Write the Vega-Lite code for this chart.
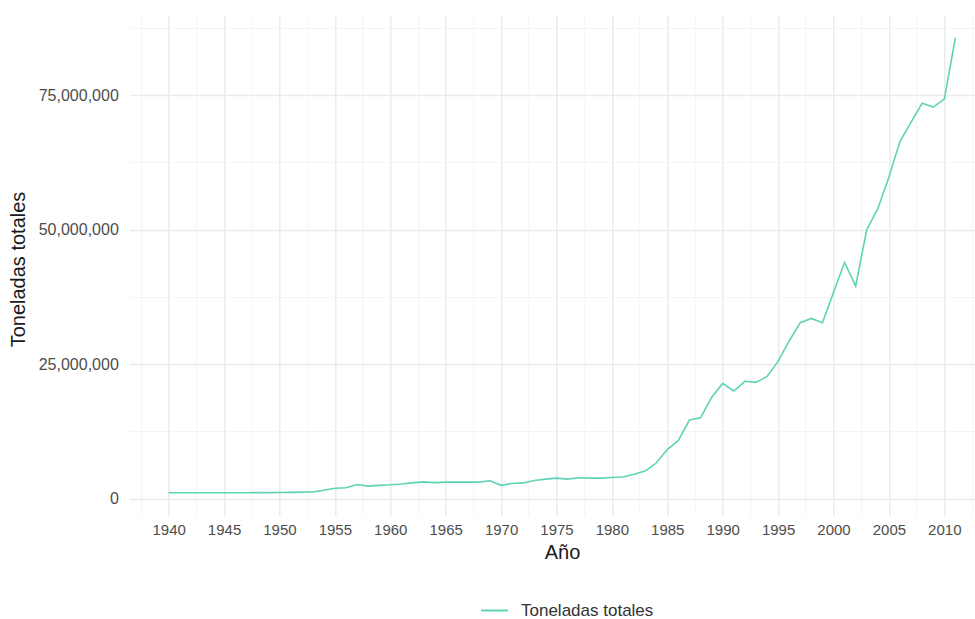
{
  "$schema": "https://vega.github.io/schema/vega-lite/v6.json",
  "autosize": {"type": "none"},
  "width": 845.7,
  "height": 500.5,
  "padding": {"left": 129.3, "top": 15, "right": 0, "bottom": 103.5},
  "background": "white",
  "config": {
    "view": {"stroke": null},
    "font": "Liberation Sans"
  },
  "data": {
    "values": [
      {"anio": 1940, "toneladas": 1070000},
      {"anio": 1941, "toneladas": 1070000},
      {"anio": 1942, "toneladas": 1070000},
      {"anio": 1943, "toneladas": 1070000},
      {"anio": 1944, "toneladas": 1070000},
      {"anio": 1945, "toneladas": 1070000},
      {"anio": 1946, "toneladas": 1070000},
      {"anio": 1947, "toneladas": 1070000},
      {"anio": 1948, "toneladas": 1100000},
      {"anio": 1949, "toneladas": 1100000},
      {"anio": 1950, "toneladas": 1120000},
      {"anio": 1951, "toneladas": 1150000},
      {"anio": 1952, "toneladas": 1180000},
      {"anio": 1953, "toneladas": 1220000},
      {"anio": 1954, "toneladas": 1550000},
      {"anio": 1955, "toneladas": 1900000},
      {"anio": 1956, "toneladas": 2000000},
      {"anio": 1957, "toneladas": 2600000},
      {"anio": 1958, "toneladas": 2300000},
      {"anio": 1959, "toneladas": 2450000},
      {"anio": 1960, "toneladas": 2550000},
      {"anio": 1961, "toneladas": 2700000},
      {"anio": 1962, "toneladas": 2900000},
      {"anio": 1963, "toneladas": 3100000},
      {"anio": 1964, "toneladas": 2950000},
      {"anio": 1965, "toneladas": 3050000},
      {"anio": 1966, "toneladas": 3050000},
      {"anio": 1967, "toneladas": 3050000},
      {"anio": 1968, "toneladas": 3050000},
      {"anio": 1969, "toneladas": 3300000},
      {"anio": 1970, "toneladas": 2450000},
      {"anio": 1971, "toneladas": 2800000},
      {"anio": 1972, "toneladas": 2900000},
      {"anio": 1973, "toneladas": 3350000},
      {"anio": 1974, "toneladas": 3600000},
      {"anio": 1975, "toneladas": 3800000},
      {"anio": 1976, "toneladas": 3600000},
      {"anio": 1977, "toneladas": 3850000},
      {"anio": 1978, "toneladas": 3800000},
      {"anio": 1979, "toneladas": 3800000},
      {"anio": 1980, "toneladas": 3900000},
      {"anio": 1981, "toneladas": 4000000},
      {"anio": 1982, "toneladas": 4500000},
      {"anio": 1983, "toneladas": 5100000},
      {"anio": 1984, "toneladas": 6600000},
      {"anio": 1985, "toneladas": 9100000},
      {"anio": 1986, "toneladas": 10800000},
      {"anio": 1987, "toneladas": 14600000},
      {"anio": 1988, "toneladas": 15000000},
      {"anio": 1989, "toneladas": 18800000},
      {"anio": 1990, "toneladas": 21400000},
      {"anio": 1991, "toneladas": 20000000},
      {"anio": 1992, "toneladas": 21800000},
      {"anio": 1993, "toneladas": 21600000},
      {"anio": 1994, "toneladas": 22700000},
      {"anio": 1995, "toneladas": 25500000},
      {"anio": 1996, "toneladas": 29300000},
      {"anio": 1997, "toneladas": 32700000},
      {"anio": 1998, "toneladas": 33500000},
      {"anio": 1999, "toneladas": 32700000},
      {"anio": 2000, "toneladas": 38300000},
      {"anio": 2001, "toneladas": 43900000},
      {"anio": 2002, "toneladas": 39500000},
      {"anio": 2003, "toneladas": 50000000},
      {"anio": 2004, "toneladas": 53900000},
      {"anio": 2005, "toneladas": 59800000},
      {"anio": 2006, "toneladas": 66400000},
      {"anio": 2007, "toneladas": 70000000},
      {"anio": 2008, "toneladas": 73500000},
      {"anio": 2009, "toneladas": 72800000},
      {"anio": 2010, "toneladas": 74300000},
      {"anio": 2011, "toneladas": 85700000}
    ]
  },
  "mark": {"type": "line", "strokeWidth": 1.6},
  "encoding": {
    "x": {
      "field": "anio",
      "type": "quantitative",
      "scale": {"domain": [1936.45, 2012.77], "nice": false, "zero": false},
      "axis": {
        "title": "Año",
        "titleFont": "Liberation Sans",
        "titleFontSize": 20,
        "titleFontWeight": "normal",
        "titleColor": "#1a1a1a",
        "titleX": 432.7,
        "titleY": 36.5,
        "titleAlign": "center",
        "titleBaseline": "middle",
        "values": [1937.5, 1940, 1942.5, 1945, 1947.5, 1950, 1952.5, 1955, 1957.5, 1960, 1962.5, 1965, 1967.5, 1970, 1972.5, 1975, 1977.5, 1980, 1982.5, 1985, 1987.5, 1990, 1992.5, 1995, 1997.5, 2000, 2002.5, 2005, 2007.5, 2010, 2012.5],
        "labelExpr": "datum.value % 5 === 0 ? format(datum.value, 'd') : ''",
        "labelOverlap": false,
        "labelFlush": false,
        "labelFontSize": 15,
        "labelColor": "#4d4d4d",
        "labelPadding": 7,
        "ticks": false,
        "domain": false,
        "grid": true,
        "gridColor": {"condition": {"test": "datum.value % 5 === 0", "value": "#ebebeb"}, "value": "#f3f3f3"},
        "gridWidth": {"condition": {"test": "datum.value % 5 === 0", "value": 1.5}, "value": 0.9}
      }
    },
    "y": {
      "field": "toneladas",
      "type": "quantitative",
      "scale": {"domain": [-3160000, 89930000], "nice": false, "zero": false},
      "axis": {
        "title": "Toneladas totales",
        "titleFont": "Liberation Sans",
        "titleFontSize": 20,
        "titleFontWeight": "normal",
        "titleColor": "#1a1a1a",
        "titleAngle": -90,
        "titleX": -111.3,
        "titleY": 254,
        "titleAlign": "center",
        "titleBaseline": "middle",
        "values": [0, 12500000, 25000000, 37500000, 50000000, 62500000, 75000000, 87500000],
        "labelExpr": "datum.value % 25000000 === 0 ? format(datum.value, ',') : ''",
        "labelOverlap": false,
        "labelFlush": false,
        "labelFontSize": 16,
        "labelColor": "#4d4d4d",
        "labelPadding": 11,
        "ticks": false,
        "domain": false,
        "grid": true,
        "gridColor": {"condition": {"test": "datum.value % 25000000 === 0", "value": "#ebebeb"}, "value": "#f3f3f3"},
        "gridWidth": {"condition": {"test": "datum.value % 25000000 === 0", "value": 1.5}, "value": 0.9}
      }
    },
    "color": {
      "datum": "Toneladas totales",
      "type": "nominal",
      "scale": {"range": ["#5ED3B6"]},
      "legend": {
        "title": null,
        "orient": "none",
        "legendX": 350.7,
        "legendY": 581,
        "direction": "horizontal",
        "padding": 0,
        "symbolType": "stroke",
        "symbolSize": 729,
        "symbolStrokeWidth": 2,
        "labelFontSize": 17,
        "labelColor": "#333333",
        "labelOffset": 12
      }
    }
  }
}
